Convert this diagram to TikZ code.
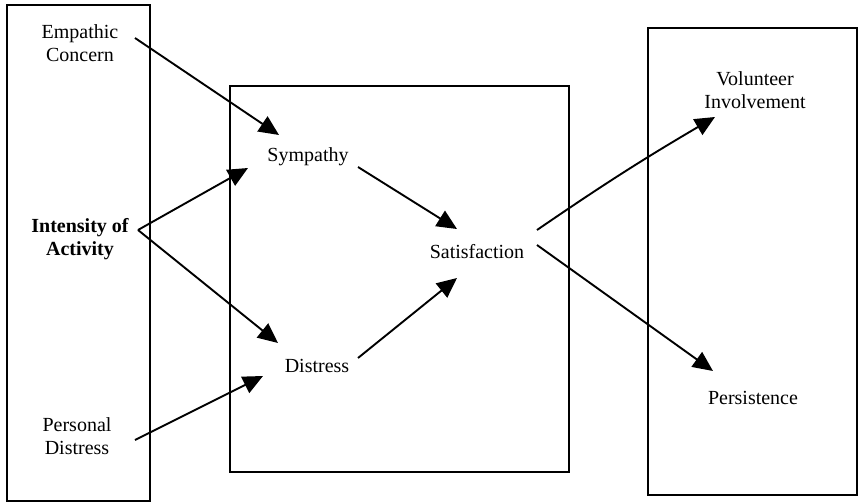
\documentclass[tikz,border=0pt]{standalone}
\usepackage{fontspec}
\setmainfont{Liberation Serif}
\usetikzlibrary{arrows.meta,positioning}

\begin{document}
\begin{tikzpicture}[x=1pt,y=-1pt,
  every node/.style={font=\fontsize{20}{23}\selectfont,align=center},
  frame/.style={draw,line width=1.8pt},
  ar/.style={-{Triangle[length=20pt,width=18pt]},line width=1.9pt}]
\useasboundingbox (0,0) rectangle (859,503);
% the three panels
\draw[frame] (7,5) rectangle (150,501);
\draw[frame] (230,86) rectangle (569,472);
\draw[frame] (648,28) rectangle (857,495);
% left panel
\node (ec) at (80,43) {Empathic\\Concern};
\node[font=\fontsize{20}{23}\selectfont\bfseries] (int) at (80,239) {Intensity of\\Activity};
\node (pd) at (77,436) {Personal\\Distress};
% middle panel
\node (sym) at (308,157) {Sympathy};
\node (dis) at (317,366) {Distress};
\node (sat) at (477,252) {Satisfaction};
% right panel
\node (vi) at (755,90) {Volunteer\\Involvement};
\node (per) at (753,398) {Persistence};
% paths
\draw[ar] ([shift={(55,-5)}]ec.center) -- ([shift={(-29,-22)}]sym.center);
\draw[ar] ([shift={(58,-9)}]int.center) -- ([shift={(-60,11)}]sym.center);
\draw[ar] ([shift={(58,-9)}]int.center) -- ([shift={(-39,-23)}]dis.center);
\draw[ar] ([shift={(58,4)}]pd.center) -- ([shift={(-54,10)}]dis.center);
\draw[ar] ([shift={(50,10)}]sym.center) -- ([shift={(-20,-23)}]sat.center);
\draw[ar] ([shift={(41,-8)}]dis.center) -- ([shift={(-20,26)}]sat.center);
\draw[ar] ([shift={(60,-22)}]sat.center) to[bend left=2] ([shift={(-40,27)}]vi.center);
\draw[ar] ([shift={(60,-7)}]sat.center) -- ([shift={(-40,-27)}]per.center);
\end{tikzpicture}
\end{document}
